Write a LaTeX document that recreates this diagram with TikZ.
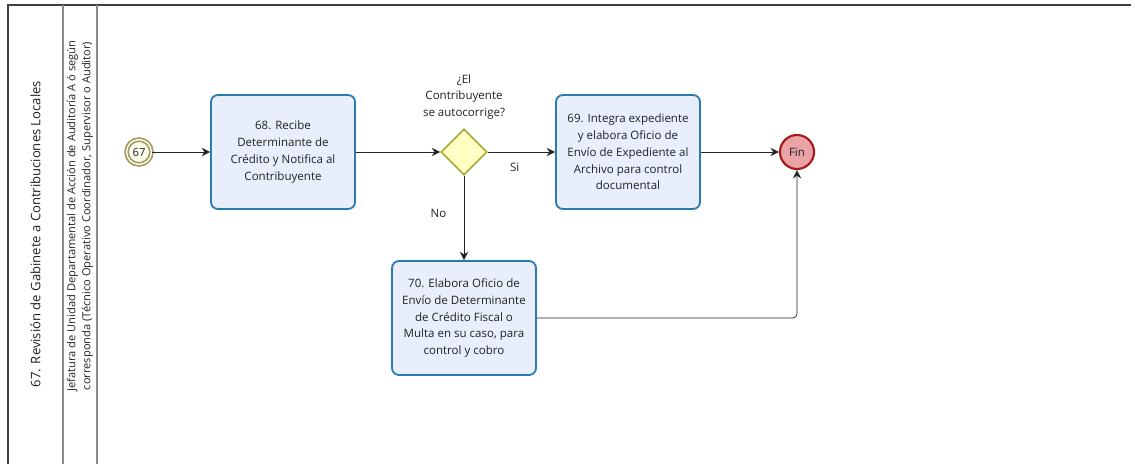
\documentclass[tikz,border=0pt]{standalone}
\usepackage{fontspec}
\setmainfont{Open Sans}
\usetikzlibrary{shapes.geometric,arrows.meta}

\definecolor{taskfill}{HTML}{E9EEFC}
\definecolor{taskline}{HTML}{2C7BB0}
\definecolor{gatefill}{HTML}{FFFFC4}
\definecolor{gateline}{HTML}{A8A83A}
\definecolor{startline}{HTML}{A09B5E}
\definecolor{startfill}{HTML}{FFFEF0}
\definecolor{endfill}{HTML}{EBA3A6}
\definecolor{endline}{HTML}{A8151B}
\definecolor{txt}{HTML}{222222}

\tikzset{
	task/.style = {draw = taskline, fill = taskfill, line width = 1.3pt, rounded corners = 5pt, minimum width = 3.6cm, minimum height = 2.85cm, align = center, text = txt, font = \fontsize{8.2}{11.9}\selectfont},
	gate/.style = {diamond, draw = gateline, fill = gatefill, line width = 1.1pt, minimum width = 1.15cm, minimum height = 1.15cm, inner sep = 0pt},
	startev/.style = {circle, draw = startline, fill = startfill, line width = 1.2pt, double = startfill, double distance = 1pt, minimum size = 0.62cm, inner sep = 0pt, text = txt, font = \fontsize{8}{9}\selectfont},
	endev/.style = {circle, draw = endline, fill = endfill, line width = 1.5pt, minimum size = 0.85cm, inner sep = 0pt, text = txt, font = \fontsize{8.2}{9}\selectfont},
	flow/.style = {draw = black!85, line width = 0.5pt, -{Stealth[length = 6pt, width = 6pt, inset = 2pt]}},
	lbl/.style = {text = txt, font = \fontsize{8.2}{11.9}\selectfont, align = center},
	lanetxt/.style = {rotate = 90, text = txt, align = center}
}

\begin{document}
\begin{tikzpicture}[x = 0.025cm, y = -0.025cm]
	\useasboundingbox (0, 0) rectangle (1135, 464);
	
	% pool and lane
	\draw[black!75, line width = 0.8pt] (8, 464) -- (8, 5) -- (1131, 5);
	\draw[black!45, line width = 0.8pt] (63, 5) -- (63, 464);
	\draw[black!45, line width = 0.8pt] (97, 5) -- (97, 464);
	\node[lanetxt, font = \fontsize{9.3}{10}\selectfont] (pool) at (35.5, 234) {67. Revisión de Gabinete a Contribuciones Locales};
	\node[lanetxt, font = \fontsize{7.9}{10.6}\selectfont] (lane) at (80, 216) {Jefatura de Unidad Departamental de Acción de Auditoría A ó según\\corresponda (Técnico Operativo Coordinador, Supervisor o Auditor)};
	
	% events, tasks and gateway
	\node[startev] (s67) at (139, 152) {67};
	\node[task] (t68) at (283, 152) {68. Recibe\\Determinante de\\Crédito y Notifica al\\Contribuyente};
	\node[gate] (g1) at (464, 152) {};
	\node[lbl] (q1) at (464, 97) {¿El\\Contribuyente\\se autocorrige?};
	\node[task] (t69) at (628, 152) {69. Integra expediente\\y elabora Oficio de\\Envío de Expediente al\\Archivo para control\\documental};
	\node[task] (t70) at (464, 318) {70. Elabora Oficio de\\Envío de Determinante\\de Crédito Fiscal o\\Multa en su caso, para\\control y cobro};
	\node[endev] (fin) at (797, 152) {Fin};
	
	% sequence flows
	\draw[flow] (s67) -- (t68);
	\draw[flow] (t68) -- (g1);
	\draw[flow] (g1) -- (t69) node[lbl, pos = 0.4, below = 4pt] {Si};
	\draw[flow] (g1) -- (t70) node[lbl, pos = 0.45, left = 9pt] {No};
	\draw[flow] (t69) -- (fin);
	\draw[flow, rounded corners = 3pt] (t70.east) -| (fin.south);
\end{tikzpicture}
\end{document}
